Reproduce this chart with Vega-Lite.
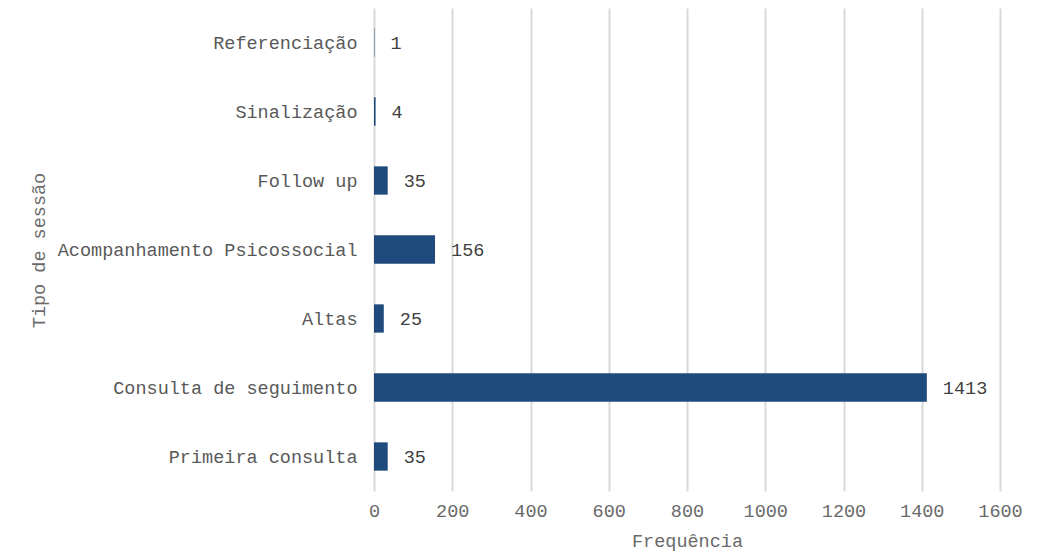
{
  "$schema": "https://vega.github.io/schema/vega-lite/v6.json",
  "width": 626,
  "height": 483,
  "autosize": {"type": "none"},
  "padding": {"left": 374, "top": 8, "right": 40, "bottom": 65},
  "background": "white",
  "config": {
    "view": {"stroke": null},
    "font": "Liberation Mono"
  },
  "data": {
    "values": [
      {"tipo": "Referenciação", "freq": 1},
      {"tipo": "Sinalização", "freq": 4},
      {"tipo": "Follow up", "freq": 35},
      {"tipo": "Acompanhamento Psicossocial", "freq": 156},
      {"tipo": "Altas", "freq": 25},
      {"tipo": "Consulta de seguimento", "freq": 1413},
      {"tipo": "Primeira consulta", "freq": 35}
    ]
  },
  "encoding": {
    "y": {
      "field": "tipo",
      "type": "nominal",
      "sort": null,
      "scale": {"paddingInner": 0.59, "paddingOuter": 0.295},
      "axis": {
        "title": "Tipo de sessão",
        "titleFont": "Liberation Mono",
        "titleFontSize": 18.5,
        "titleFontWeight": "normal",
        "titleColor": "#6a6a6a",
        "titleX": -336,
        "titleY": 242,
        "titleAngle": -90,
        "titleBaseline": "middle",
        "labelFont": "Liberation Mono",
        "labelFontSize": 18.5,
        "labelColor": "#595959",
        "labelPadding": 17,
        "labelLimit": 0,
        "ticks": false,
        "domain": false,
        "grid": false
      }
    },
    "x": {
      "field": "freq",
      "type": "quantitative",
      "scale": {"domain": [0, 1600], "nice": false},
      "axis": {
        "title": "Frequência",
        "titleFont": "Liberation Mono",
        "titleFontSize": 18.5,
        "titleFontWeight": "normal",
        "titleColor": "#6a6a6a",
        "titlePadding": 12,
        "labelFont": "Liberation Mono",
        "labelFontSize": 18.5,
        "labelColor": "#6a6a6a",
        "labelPadding": 10,
        "labelFlush": false,
        "labelOverlap": false,
        "format": "d",
        "values": [0, 200, 400, 600, 800, 1000, 1200, 1400, 1600],
        "ticks": false,
        "domain": false,
        "grid": true,
        "gridColor": "#d9d9d9",
        "gridWidth": 2
      }
    }
  },
  "layer": [
    {
      "mark": {"type": "bar", "color": "#1f4a7c"}
    },
    {
      "mark": {
        "type": "text",
        "align": "left",
        "baseline": "middle",
        "dx": 16,
        "font": "Liberation Mono",
        "fontSize": 18.5,
        "color": "#404040"
      },
      "encoding": {"text": {"field": "freq", "type": "quantitative"}}
    }
  ]
}
